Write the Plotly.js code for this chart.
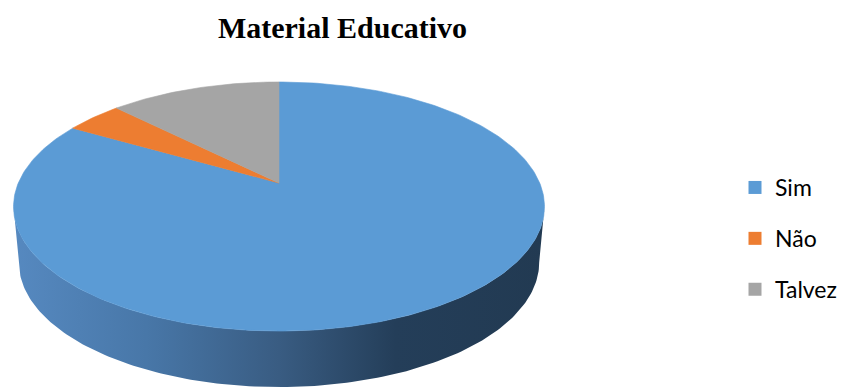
<!DOCTYPE html>
<html>
<head>
<meta charset="utf-8">
<script src="https://cdn.plot.ly/plotly-3.0.1.min.js"></script>
<style>html,body{margin:0;padding:0;background:#fff;}#chart{width:845px;height:389px;}</style>
</head>
<body>
<div id="chart"></div>
<script>
// ---- data ----
const labels = ['Sim', 'Não', 'Talvez'];
const values = [20, 1, 3];
const colors = ['#5b9bd5', '#ed7d31', '#a5a5a5'];
const title = 'Material Educativo';

// ---- 3D pie projection (styling geometry) ----
const W = 845, H = 389;
const cx = 279, cy = 183, A = 260.7, B = 120.1, k = 0.189, depth = 56, sBottom = 0.98;
function proj(deg, bottom) {
  const r = deg * Math.PI / 180;
  const u = Math.sin(r), v = Math.cos(r), d = 1 + k * v;
  const sx = bottom ? sBottom : 1;
  return [cx + A * sx * u / d, cy + (bottom ? depth : 0) - B * v / d];
}
function arc(a0, a1, bottom) {
  const pts = [];
  const n = Math.max(2, Math.ceil(Math.abs(a1 - a0)));
  for (let i = 0; i <= n; i++) pts.push(proj(a0 + (a1 - a0) * i / n, bottom));
  return pts;
}
const total = values.reduce((a, b) => a + b, 0);
const phiR = Math.acos(-k) * 180 / Math.PI;   // right silhouette
const phiL = 360 - phiR;                        // left silhouette

const traces = [];
const slices = [];
let acc = 0;
values.forEach((v, i) => {
  const a0 = acc / total * 360, a1 = (acc + v) / total * 360;
  acc += v;
  slices.push([a0, a1]);
});
// side walls (visible front part)
slices.forEach(([a0, a1], i) => {
  const s0 = Math.max(a0, phiR), s1 = Math.min(a1, phiL);
  if (s1 <= s0) return;
  const top = arc(s0, s1, false), bot = arc(s1, s0, true);
  const pts = top.concat(bot);
  traces.push({
    type: 'scatter', mode: 'lines', x: pts.map(p => p[0]), y: pts.map(p => p[1]),
    fill: 'toself', line: {width: 0, color: colors[i]},
    fillcolor: colors[i],
    fillgradient: i === 0 ? {type: 'horizontal', colorscale: [[0, '#5689c0'], [0.25, '#4877a8'], [0.5, '#395c82'], [0.72, '#243e59'], [1, '#223a52']]} : undefined,
    hoverinfo: 'skip', showlegend: false
  });
});
// top faces
slices.forEach(([a0, a1], i) => {
  const pts = [[cx, cy]].concat(arc(a0, a1, false));
  pts.push([cx, cy]);
  traces.push({
    type: 'scatter', mode: 'lines', x: pts.map(p => p[0]), y: pts.map(p => p[1]),
    fill: 'toself', fillcolor: colors[i], line: {width: 0.6, color: colors[i]},
    hoverinfo: 'skip', showlegend: false
  });
});
// legend entries
labels.forEach((lab, i) => {
  traces.push({
    type: 'scatter', mode: 'markers', x: [null], y: [null], name: lab,
    legendgroup: 'g' + i,
    marker: {symbol: 'square', size: 13, color: colors[i]}, hoverinfo: 'skip'
  });
});

const layout = {
  width: W, height: H,
  margin: {l: 0, r: 0, t: 0, b: 0},
  paper_bgcolor: '#ffffff', plot_bgcolor: '#ffffff',
  xaxis: {range: [0, W], visible: false, fixedrange: true},
  yaxis: {range: [H, 0], visible: false, fixedrange: true},
  showlegend: true,
  title: {text: '<b>' + title + '</b>', x: 342.5 / W, xanchor: 'center', y: 1 - 27 / H, yanchor: 'middle',
          font: {family: 'Liberation Serif, serif', size: 30, color: '#000000'}},
  legend: {x: 735 / W, xanchor: 'left', y: 1 - 166 / H, yanchor: 'top',
           font: {family: 'Lato, sans-serif', size: 23, color: '#000000'},
           tracegroupgap: 18, itemwidth: 30, bgcolor: 'rgba(0,0,0,0)'}
};
Plotly.newPlot('chart', traces, layout, {displayModeBar: false, staticPlot: true});
</script>
</body>
</html>
